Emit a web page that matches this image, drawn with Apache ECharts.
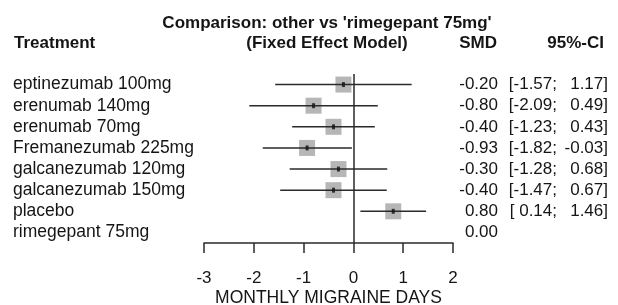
<!DOCTYPE html>
<html>
<head>
<meta charset="utf-8">
<script src="https://cdn.jsdelivr.net/npm/echarts@6/dist/echarts.min.js"></script>
<style>
  html, body { margin: 0; padding: 0; background: #fff; }
  #chart { width: 618px; height: 305px; }
</style>
</head>
<body>
<div id="chart"></div>
<script>
// forest plot data
var treatments = ['eptinezumab 100mg', 'erenumab 140mg', 'erenumab 70mg', 'Fremanezumab 225mg',
  'galcanezumab 120mg', 'galcanezumab 150mg', 'placebo', 'rimegepant 75mg']
var smd = [-0.20, -0.80, -0.40, -0.93, -0.30, -0.40, 0.80, 0.00]
var lower = [-1.57, -2.09, -1.23, -1.82, -1.28, -1.47, 0.14, null]
var upper = [1.17, 0.49, 0.43, -0.03, 0.68, 0.67, 1.46, null]
var xMin = -3
var xMax = 2

var font = "'Liberation Sans', Arial, sans-serif"
var ink = '#151515'

var ciData = []
var pointData = []
for (var i = 0; i < treatments.length; i++) {
  if (lower[i] === null) continue
  ciData.push([i, lower[i], upper[i]])
  pointData.push([smd[i], i])
}

function fmt(v) {
  return v.toFixed(2)
}

var chart = echarts.init(document.getElementById('chart'))
chart.setOption({
  animation: false,
  graphic: [
    { type: 'text', style: { text: "Comparison: other vs 'rimegepant 75mg'", x: 327, y: 23, textAlign: 'center', textVerticalAlign: 'middle', font: 'bold 17px ' + font, fill: ink } },
    { type: 'text', style: { text: '(Fixed Effect Model)', x: 327, y: 43, textAlign: 'center', textVerticalAlign: 'middle', font: 'bold 17px ' + font, fill: ink } },
    { type: 'text', style: { text: 'Treatment', x: 14, y: 43, textAlign: 'left', textVerticalAlign: 'middle', font: 'bold 17px ' + font, fill: ink } },
    { type: 'text', style: { text: 'SMD', x: 497, y: 43, textAlign: 'right', textVerticalAlign: 'middle', font: 'bold 17px ' + font, fill: ink } },
    { type: 'text', style: { text: '95%-CI', x: 604, y: 43, textAlign: 'right', textVerticalAlign: 'middle', font: 'bold 17px ' + font, fill: ink } }
  ],
  grid: {
    left: 204,
    right: 165,
    top: 74,
    height: 169,
    outerBoundsMode: 'none',
    containLabel: false
  },
  xAxis: {
    type: 'value',
    min: xMin,
    max: xMax,
    interval: 1,
    name: 'MONTHLY MIGRAINE DAYS',
    nameLocation: 'middle',
    nameGap: 46,
    nameMoveOverlap: false,
    nameTextStyle: { fontFamily: font, fontSize: 17.5, color: ink },
    splitLine: { show: false },
    axisLine: { show: true, lineStyle: { color: '#2a2a2a', width: 1.5 } },
    axisTick: { show: true, length: 10, lineStyle: { color: '#2a2a2a', width: 1.5 } },
    axisLabel: { margin: 27, fontFamily: font, fontSize: 17, color: ink }
  },
  yAxis: [
    {
      type: 'category',
      data: treatments,
      inverse: true,
      axisLine: { show: false },
      axisTick: { show: false },
      axisLabel: { interval: 0, align: 'left', margin: 191, fontFamily: font, fontSize: 17.5, color: ink }
    },
    {
      type: 'category',
      position: 'right',
      data: treatments,
      inverse: true,
      axisLine: { show: false },
      axisTick: { show: false },
      axisLabel: {
        interval: 0,
        align: 'left',
        margin: 0,
        fontFamily: font,
        fontSize: 17,
        color: ink,
        formatter: function (val, idx) {
          var s = '{s|' + fmt(smd[idx]) + '}'
          if (lower[idx] === null) return s
          var lo = '[' + (lower[idx] < 0 ? '' : ' ') + fmt(lower[idx]) + ';'
          return s + '{lo|' + lo + '}{hi|' + fmt(upper[idx]) + ']}'
        },
        rich: {
          s: { width: 45, align: 'right', fontFamily: font, fontSize: 17, color: ink },
          lo: { width: 59, align: 'right', fontFamily: font, fontSize: 17, color: ink },
          hi: { width: 51, align: 'right', fontFamily: font, fontSize: 17, color: ink }
        }
      }
    }
  ],
  series: [
    {
      type: 'scatter',
      name: 'smd',
      data: pointData,
      symbol: 'rect',
      symbolSize: 16,
      itemStyle: { color: '#a4a4a4' },
      z: 2
    },
    {
      type: 'custom',
      name: 'ci',
      data: ciData,
      encode: { x: [1, 2], y: 0 },
      renderItem: function (params, api) {
        var a = api.coord([api.value(1), api.value(0)])
        var b = api.coord([api.value(2), api.value(0)])
        return {
          type: 'line',
          shape: { x1: a[0], y1: a[1], x2: b[0], y2: b[1] },
          style: { stroke: '#2a2a2a', lineWidth: 1.5 }
        }
      },
      z: 3
    },
    {
      type: 'scatter',
      name: 'dot',
      data: pointData,
      symbol: 'rect',
      symbolSize: [3, 5],
      itemStyle: { color: '#111' },
      z: 4,
      markLine: {
        silent: true,
        symbol: 'none',
        label: { show: false },
        lineStyle: { color: '#2a2a2a', width: 1.5, type: 'solid' },
        data: [{ xAxis: 0 }]
      }
    }
  ]
})
</script>
</body>
</html>
